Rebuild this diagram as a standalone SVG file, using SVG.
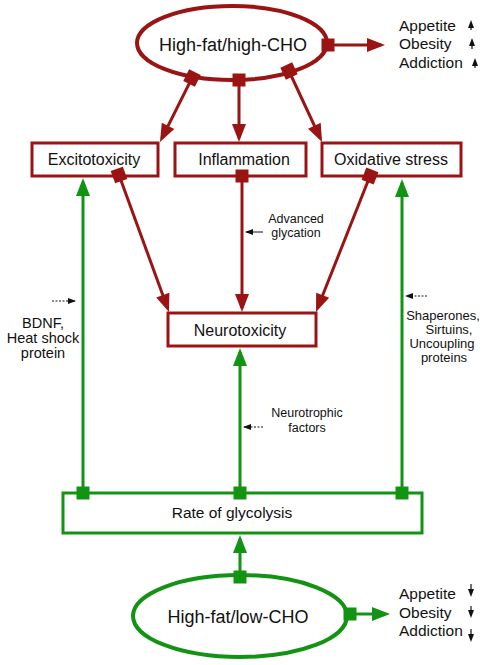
<svg xmlns="http://www.w3.org/2000/svg" width="490" height="665" viewBox="0 0 490 665">
<style>
text{font-family:"Liberation Sans",Arial,sans-serif;fill:#111;}
.big{font-size:18px;text-anchor:middle;}
.box{font-size:16px;text-anchor:middle;}
.sm{font-size:12.5px;text-anchor:middle;}
.mid{font-size:14.5px;text-anchor:middle;}
.lab{font-size:15.5px;}
.rbox{fill:#fff;stroke:#9a1414;stroke-width:3;}
.gbox{fill:#fff;stroke:#139313;stroke-width:3;}
.rl{stroke:#9a1414;stroke-width:3;fill:none;marker-start:url(#sqR);marker-end:url(#arR);}
.gl{stroke:#139313;stroke-width:3;fill:none;marker-start:url(#sqG);marker-end:url(#arG);}
.dash{stroke:#111;stroke-width:1;stroke-dasharray:2 1.5;fill:none;marker-end:url(#arK);}
.solid{stroke:#111;stroke-width:1;fill:none;marker-end:url(#arK);}
.tri{fill:#111;}
.stem{stroke:#111;stroke-width:1.2;}
</style>
<defs>
<marker id="arR" markerUnits="userSpaceOnUse" markerWidth="20" markerHeight="16" refX="14" refY="7" orient="auto" overflow="visible"><path d="M0,0 L18,7 L0,14 z" fill="#9a1414"/></marker>
<marker id="arG" markerUnits="userSpaceOnUse" markerWidth="20" markerHeight="16" refX="14" refY="7" orient="auto" overflow="visible"><path d="M0,0 L18,7 L0,14 z" fill="#139313"/></marker>
<marker id="sqR" markerUnits="userSpaceOnUse" markerWidth="14" markerHeight="14" refX="6.5" refY="6.5" orient="auto" overflow="visible"><rect x="0" y="0" width="13" height="13" fill="#9a1414"/></marker>
<marker id="sqG" markerUnits="userSpaceOnUse" markerWidth="14" markerHeight="14" refX="6.5" refY="6.5" orient="auto" overflow="visible"><rect x="0" y="0" width="13" height="13" fill="#139313"/></marker>
<marker id="arK" markerUnits="userSpaceOnUse" markerWidth="9" markerHeight="7" refX="7" refY="3" orient="auto" overflow="visible"><path d="M0,0 L8,3 L0,6 z" fill="#111"/></marker>
</defs>

<g id="high-cho">
<ellipse cx="232" cy="43" rx="95" ry="37" fill="none" stroke="#9a1414" stroke-width="4"/>
<text class="big" x="233" y="51">High-fat/high-CHO</text>
</g>
<g id="top-effects">
<text class="lab" x="399" y="31">Appetite</text>
<text class="lab" x="399" y="49">Obesity</text>
<text class="lab" x="399" y="68">Addiction</text>
<line class="stem" x1="471" y1="26" x2="471" y2="30"/><path class="tri" d="M471,20 L474,28 L468,28 z"/>
<line class="stem" x1="472" y1="44" x2="472" y2="49"/><path class="tri" d="M472,38 L475,46 L469,46 z"/>
<line class="stem" x1="475" y1="63" x2="475" y2="68"/><path class="tri" d="M475,58 L478,66 L472,66 z"/>
</g>

<g id="excitotoxicity">
<rect class="rbox" x="32" y="143" width="126" height="33"/>
<text class="box" x="94" y="165">Excitotoxicity</text>
</g>
<g id="inflammation">
<rect class="rbox" x="175" y="143" width="131" height="33"/>
<text class="box" x="244" y="165">Inflammation</text>
</g>
<g id="oxidative-stress">
<rect class="rbox" x="322" y="143" width="139" height="33"/>
<text class="box" x="391" y="165">Oxidative stress</text>
</g>
<g id="neurotoxicity">
<rect class="rbox" x="168" y="313" width="148" height="33"/>
<text class="box" x="240" y="336">Neurotoxicity</text>
</g>
<g id="glycolysis">
<rect class="gbox" x="63" y="493" width="359" height="40"/>
<text class="box" x="232" y="517.5" style="font-size:15.5px">Rate of glycolysis</text>
</g>
<g id="low-cho">
<ellipse cx="240" cy="616" rx="107" ry="41" fill="none" stroke="#139313" stroke-width="4"/>
<text class="big" x="238" y="623">High-fat/low-CHO</text>
</g>
<g id="bottom-effects">
<text class="lab" x="399" y="599">Appetite</text>
<text class="lab" x="399" y="618">Obesity</text>
<text class="lab" x="399" y="636">Addiction</text>
<line class="stem" x1="471" y1="584" x2="471" y2="589"/><path class="tri" d="M471,597 L474,589 L468,589 z"/>
<line class="stem" x1="471" y1="606" x2="471" y2="610"/><path class="tri" d="M471,618 L474,610 L468,610 z"/>
<line class="stem" x1="471" y1="629" x2="471" y2="634"/><path class="tri" d="M471,642 L474,634 L468,634 z"/>
</g>

<g id="labels">
<text class="sm" x="296" y="223">Advanced</text>
<text class="sm" x="296" y="237">glycation</text>
<text class="mid" x="43" y="328">BDNF,</text>
<text class="mid" x="43" y="343">Heat shock</text>
<text class="mid" x="43" y="358">protein</text>
<text class="sm" x="443" y="320" style="font-size:13px">Shaperones,</text>
<text class="sm" x="449" y="334" style="font-size:13px">Sirtuins,</text>
<text class="sm" x="442" y="348" style="font-size:13px">Uncoupling</text>
<text class="sm" x="444" y="362" style="font-size:13px">proteins</text>
<text class="sm" x="307" y="417">Neurotrophic</text>
<text class="sm" x="307" y="432">factors</text>
</g>

<g id="connectors">
<line class="rl" x1="192" y1="78" x2="161.8" y2="138.4"/>
<line class="rl" x1="239" y1="80" x2="239" y2="138"/>
<line class="rl" x1="289" y1="71" x2="320.3" y2="138.4"/>
<line class="rl" x1="119" y1="175" x2="167.6" y2="308.2"/>
<line class="rl" x1="242" y1="176" x2="242" y2="308"/>
<line class="rl" x1="370" y1="176" x2="317.5" y2="308.3"/>
<line class="rl" x1="328" y1="45" x2="381" y2="45"/>
<line class="gl" x1="83" y1="493" x2="83" y2="182"/>
<line class="gl" x1="240" y1="493" x2="240" y2="352"/>
<line class="gl" x1="402" y1="493" x2="402" y2="183"/>
<line class="gl" x1="240" y1="577" x2="240" y2="539"/>
<line class="gl" x1="350" y1="614" x2="386" y2="614"/>
<line class="solid" x1="263" y1="232" x2="246" y2="232"/>
<line class="dash" x1="52" y1="301" x2="75" y2="301"/>
<line class="dash" x1="427" y1="296" x2="406" y2="296"/>
<line class="dash" x1="263" y1="427" x2="244" y2="427"/>
</g>
</svg>
